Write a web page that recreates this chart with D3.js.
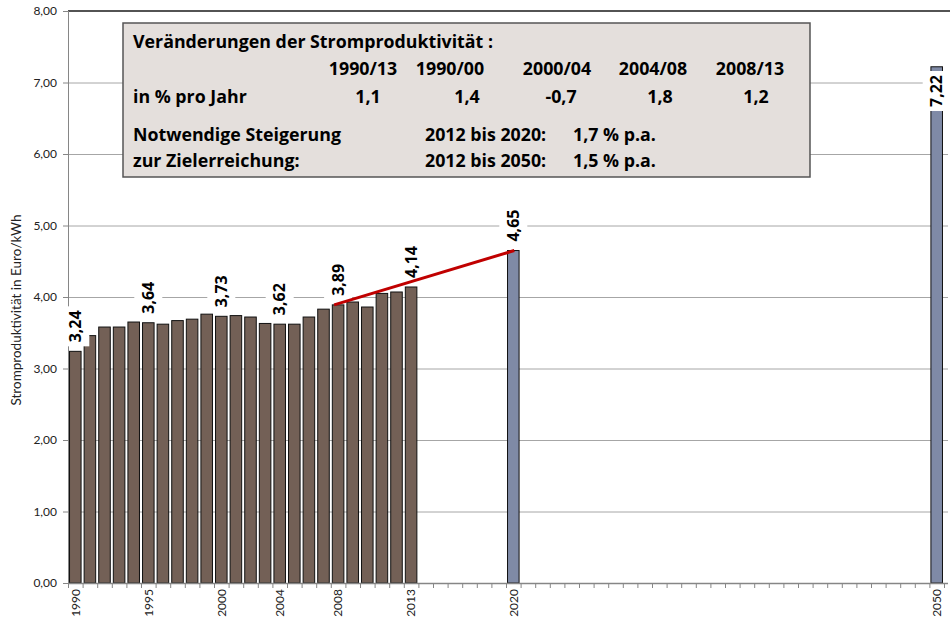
<!DOCTYPE html>
<meta charset="utf-8">
<style>
  body { margin: 0; background: #fff; }
  svg { display: block; font-family: Lato, "Open Sans", sans-serif; }
</style>
<svg width="950" height="621"></svg>
<script src="https://d3js.org/d3.v7.min.js"></script>
<script>
// data
var years = [1990,1991,1992,1993,1994,1995,1996,1997,1998,1999,2000,2001,2002,2003,2004,2005,2006,2007,2008,2009,2010,2011,2012,2013,2020,2050];
var values = [3.24,3.46,3.58,3.58,3.65,3.64,3.62,3.67,3.69,3.76,3.73,3.74,3.72,3.63,3.62,3.62,3.72,3.83,3.89,3.93,3.86,4.05,4.07,4.14,4.65,7.22];
var projected = [2020, 2050];
var labeledYears = [1990,1995,2000,2004,2008,2013,2020,2050];
var tickYears = [1990,1995,2000,2004,2008,2013,2020,2050];
var trendFrom = [2008, 3.89], trendTo = [2020, 4.65];

var periods = ["1990/13","1990/00","2000/04","2004/08","2008/13"];
var rates = ["1,1","1,4","-0,7","1,8","1,2"];
var targetLabels = ["Notwendige Steigerung","zur Zielerreichung:"];
var targetRanges = ["2012 bis 2020:","2012 bis 2050:"];
var targetRates = ["1,7 % p.a.","1,5 % p.a."];

var svg = d3.select("svg"),
	width = +svg.attr("width"),
	height = +svg.attr("height");

var de = d3.formatLocale({decimal: ",", thousands: ".", grouping: [3], currency: ["", " €"]});
var fmt = de.format(".2f");

// category axis: 1990..2048 then 2050 (60 slots like the excel sheet)
var cats = d3.range(1990, 2049).concat([2050]);
var x = d3.scaleBand().domain(cats).range([68, 944]).paddingInner(0.14).paddingOuter(0.07);
var step = x.step();
var y = d3.scaleLinear().domain([0, 8]).range([583, 11]);

var data = years.map(function(d, i){ return {year: d, value: values[i]}; });

// gridlines
svg.append("g").selectAll("line").data(d3.range(1, 8)).enter().append("line")
	.attr("x1", 68).attr("x2", 948)
	.attr("y1", function(d){ return y(d) + 0.5; }).attr("y2", function(d){ return y(d) + 0.5; })
	.attr("stroke", "#a6a6a6").attr("stroke-width", 1);

// top line
svg.append("line").attr("x1", 68).attr("x2", 950).attr("y1", y(8)).attr("y2", y(8))
	.attr("stroke", "#1a1a1a").attr("stroke-width", 1.5);

// y axis
svg.append("line").attr("x1", 68.5).attr("x2", 68.5).attr("y1", y(8)).attr("y2", y(0))
	.attr("stroke", "#868686");
svg.append("g").selectAll("line").data(d3.range(0, 9)).enter().append("line")
	.attr("x1", 63).attr("x2", 68)
	.attr("y1", function(d){ return y(d) + 0.5; }).attr("y2", function(d){ return y(d) + 0.5; })
	.attr("stroke", "#868686");
svg.append("g").selectAll("text").data(d3.range(0, 9)).enter().append("text")
	.attr("x", 57).attr("y", function(d){ return y(d); })
	.attr("dy", "0.35em").attr("text-anchor", "end")
	.attr("font-size", 12).attr("fill", "#222")
	.text(function(d){ return fmt(d); });

svg.append("text")
	.attr("transform", "translate(21," + 310 + ") rotate(-90)")
	.attr("text-anchor", "middle").attr("font-size", 13.5).attr("fill", "#222")
	.text("Stromproduktivität in Euro/kWh");

// bars
svg.append("g").selectAll("rect").data(data).enter().append("rect")
	.attr("x", function(d){ return x(d.year) + 0.5; })
	.attr("y", function(d){ return y(d.value); })
	.attr("width", x.bandwidth() - 1)
	.attr("height", function(d){ return y(0) - y(d.value); })
	.attr("fill", function(d){ return projected.indexOf(d.year) >= 0 ? "#7f8aa6" : "#736056"; })
	.attr("stroke", "#111").attr("stroke-width", 1);

// x axis
svg.append("line").attr("x1", 68).attr("x2", 948).attr("y1", y(0) + 0.5).attr("y2", y(0) + 0.5)
	.attr("stroke", "#868686").attr("stroke-width", 1.5);
svg.append("g").selectAll("line").data(d3.range(0, cats.length + 1)).enter().append("line")
	.attr("x1", function(i){ return 68 + i * step + 0.5; }).attr("x2", function(i){ return 68 + i * step + 0.5; })
	.attr("y1", y(0)).attr("y2", y(0) + 5)
	.attr("stroke", "#868686");
svg.append("g").selectAll("text").data(tickYears).enter().append("text")
	.attr("transform", function(d){ return "translate(" + (x(d) + x.bandwidth() / 2) + "," + 589 + ") rotate(-90)"; })
	.attr("dy", "0.35em").attr("text-anchor", "end")
	.attr("font-size", 12).attr("fill", "#222")
	.text(function(d){ return d; });

// value labels (white background)
var labels = svg.append("g").selectAll("g").data(data.filter(function(d){ return labeledYears.indexOf(d.year) >= 0; }))
	.enter().append("g");
labels.each(function(d){
	var g = d3.select(this),
		cx = x(d.year) + x.bandwidth() / 2;
	var t = g.append("text")
		.attr("font-family", "'Open Sans', sans-serif")
		.attr("font-size", 16).attr("font-weight", "bold").attr("fill", "#000")
		.attr("text-anchor", "start").attr("dy", "0.36em")
		.text(fmt(d.value));
	var len = t.node().getComputedTextLength();
	var bottom = Math.max(y(d.value) - 9, y(8) + 64 + len);
	t.attr("transform", "translate(" + cx + "," + bottom + ") rotate(-90)");
	g.insert("rect", "text")
		.attr("x", cx - 14).attr("y", bottom - len - 4)
		.attr("width", 28).attr("height", len + 8)
		.attr("fill", "#fff");
});

// trend line
svg.append("line")
	.attr("x1", x(trendFrom[0]) + x.bandwidth() / 2 - 4).attr("y1", y(trendFrom[1]))
	.attr("x2", x(trendTo[0]) + x.bandwidth() / 2 + 1).attr("y2", y(trendTo[1]))
	.attr("stroke", "#c00000").attr("stroke-width", 3);

// info box
var box = svg.append("g").attr("font-family", "'Open Sans', sans-serif")
	.attr("font-weight", "bold").attr("font-size", 17.8).attr("fill", "#000");
box.append("rect").attr("x", 123).attr("y", 23).attr("width", 687).attr("height", 154)
	.attr("fill", "#e4dfdc").attr("stroke", "#555").attr("stroke-width", 1.5);
box.append("text").attr("x", 133).attr("y", 48).text("Veränderungen der Stromproduktivität :");

var headX = [363, 450, 557, 653, 750],
	rateX = [368, 467, 561, 660, 756];
box.selectAll("text.head").data(periods).enter().append("text").attr("class", "head")
	.attr("x", function(d, i){ return headX[i]; }).attr("y", 75)
	.attr("text-anchor", "middle").text(function(d){ return d; });
box.append("text").attr("x", 133).attr("y", 103).text("in % pro Jahr");
box.selectAll("text.rate").data(rates).enter().append("text").attr("class", "rate")
	.attr("x", function(d, i){ return rateX[i]; }).attr("y", 103)
	.attr("text-anchor", "middle").text(function(d){ return d; });

var rowY = [141, 167];
box.selectAll("text.tl").data(targetLabels).enter().append("text").attr("class", "tl")
	.attr("x", 133).attr("y", function(d, i){ return rowY[i]; }).text(function(d){ return d; });
box.selectAll("text.tr").data(targetRanges).enter().append("text").attr("class", "tr")
	.attr("x", 425).attr("y", function(d, i){ return rowY[i]; }).text(function(d){ return d; });
box.selectAll("text.tp").data(targetRates).enter().append("text").attr("class", "tp")
	.attr("x", 573).attr("y", function(d, i){ return rowY[i]; }).text(function(d){ return d; });
</script>
